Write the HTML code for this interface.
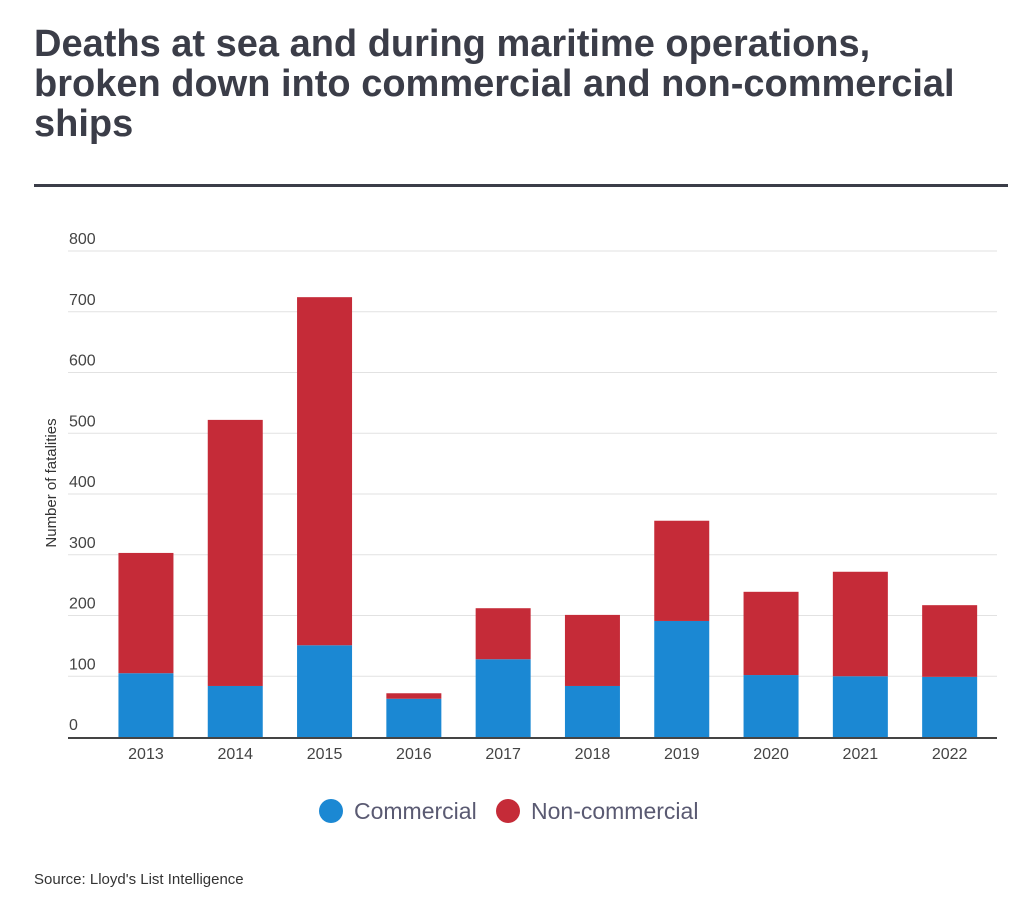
<!DOCTYPE html>
<html><head><meta charset="utf-8"><style>
body{margin:0;background:#fff;width:1024px;height:914px;overflow:hidden;font-family:"Liberation Sans",sans-serif;}
#title{position:absolute;left:34px;top:24px;width:990px;font-size:38px;font-weight:bold;color:#3b3d48;line-height:40px;letter-spacing:0;margin:0;white-space:nowrap}
#rule{position:absolute;left:34px;top:184px;width:974px;height:3px;background:#3b3d48}
#src{position:absolute;left:34px;top:871px;font-size:15px;color:#333}
</style></head><body>
<h1 id="title">Deaths at sea and during maritime operations,<br>broken down into commercial and non-commercial<br>ships</h1>
<div id="rule"></div>
<svg id="chart" width="1024" height="914" style="position:absolute;left:0;top:0"></svg>
<div id="src">Source: Lloyd's List Intelligence</div>
<script>
const categories=["2013","2014","2015","2016","2017","2018","2019","2020","2021","2022"];
const commercial=[105,84,151,63,128,84,191,102,100,99];
const nonCommercial=[198,438,573,9,84,117,165,137,172,118];
const yTicks=[0,100,200,300,400,500,600,700,800];
const NS="http://www.w3.org/2000/svg";
const svg=document.getElementById('chart');
const y0=737,yTop=251,yMax=800,left=101.3,step=89.3,bw=55;
const y=v=>y0-(v/yMax)*(y0-yTop);
const xc=i=>left+step*(i+0.5);
function mk(t,a){const e=document.createElementNS(NS,t);for(const k in a)e.setAttribute(k,a[k]);svg.appendChild(e);return e;}
yTicks.forEach(t=>{
  if(t>0){const g=mk('line',{x1:68,x2:997,y1:y(t),y2:y(t),stroke:'#e2e2e2','stroke-width':1});
  
  }
  const l=mk('text',{x:69,y:y(t)-7,'font-size':16,fill:'#444','font-family':'Liberation Sans, sans-serif'});
  l.textContent=t;
  
  
});
categories.forEach((c,i)=>{
  const b1=mk('rect',{x:xc(i)-bw/2,y:y(commercial[i]),width:bw,height:y0-y(commercial[i]),fill:'#1b88d3'});
  
  
  const tot=commercial[i]+nonCommercial[i];
  const b2=mk('rect',{x:xc(i)-bw/2,y:y(tot),width:bw,height:y(commercial[i])-y(tot),fill:'#c52b38'});
  
  
  const t=mk('text',{x:xc(i),y:759,'font-size':16,fill:'#444','text-anchor':'middle','font-family':'Liberation Sans, sans-serif'});
  t.textContent=c;
  
  
});
const ax=mk('line',{x1:68,x2:997,y1:y0+1,y2:y0+1,stroke:'#444','stroke-width':2});


const yt=mk('text',{x:0,y:0,'font-size':15,fill:'#333','text-anchor':'middle',transform:'translate(56,483) rotate(-90)','font-family':'Liberation Sans, sans-serif'});
yt.textContent='Number of fatalities';


[[331,'#1b88d3','Commercial',354],[508,'#c52b38','Non-commercial',531]].forEach(([cx,col,lab,tx])=>{
  const d=mk('circle',{cx:cx,cy:811,r:12,fill:col});
  
  
  const t=mk('text',{x:tx,y:819,'font-size':23,fill:'#5a5a72','font-family':'Liberation Sans, sans-serif'});
  t.textContent=lab;
  
  
});
</script>
</body></html>
